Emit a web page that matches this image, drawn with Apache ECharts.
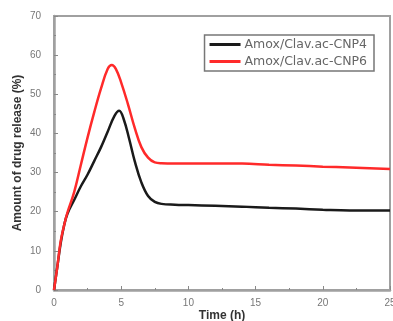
<!DOCTYPE html>
<html>
<head>
<meta charset="utf-8">
<script src="https://cdn.jsdelivr.net/npm/echarts@6/dist/echarts.min.js"></script>
<style>
  html, body { margin: 0; padding: 0; background: #fff; }
  #chart { width: 393px; height: 321px; }
</style>
</head>
<body>
<div id="chart"></div>
<script>
// release curves, [time (h), % released]
const cnp4 = [
  [0, 0], [0.25, 6], [0.5, 12], [0.75, 16.5], [1, 19.5], [1.5, 23], [2, 26.5],
  [2.5, 29.5], [3, 33], [3.5, 36.5], [4, 40.5], [4.5, 44.5], [4.85, 45.8],
  [5.2, 43.5], [5.6, 38.5], [6, 33], [6.5, 27.5], [7, 24], [7.5, 22.5],
  [8, 22], [9, 21.8], [10, 21.7], [12, 21.5], [14, 21.3], [16, 21],
  [18, 20.8], [20, 20.5], [22, 20.3], [25, 20.3]
];
const cnp6 = [
  [0, 0], [0.25, 6], [0.5, 12.5], [0.75, 16.5], [1, 19.8], [1.5, 25],
  [2, 32], [2.5, 39], [3, 45.5], [3.5, 51.5], [4, 56.5], [4.3, 57.5],
  [4.6, 56.5], [5, 53], [5.5, 47.5], [6, 41.5], [6.5, 36.5], [7, 33.8],
  [7.5, 32.6], [8, 32.4], [10, 32.3], [14, 32.3], [16, 32], [18, 31.8],
  [20, 31.5], [22, 31.3], [25, 30.9]
];
const seriesNames = ["Amox/Clav.ac-CNP4", "Amox/Clav.ac-CNP6"];
const seriesColors = ["#1a1a1a", "#ff2a2a"];

const chart = echarts.init(document.getElementById("chart"), null, { renderer: "canvas" });

const axisCommon = {
  nameMoveOverlap: false,
  axisLine: { show: true, lineStyle: { color: "#a0a0a0", width: 2.5 } },
  axisTick: { show: true, inside: true, length: 4, lineStyle: { color: "#888" } },
  minorTick: { show: true, splitNumber: 2, length: 2, lineStyle: { color: "#888" } },
  splitLine: { show: false },
  axisLabel: { color: "#777", fontSize: 10, fontFamily: "Arial, Liberation Sans" }
};

chart.setOption({
  animation: false,
  backgroundColor: "#fff",
  grid: {
    left: 54, right: 3, top: 16, bottom: 31,
    outerBoundsMode: "none", containLabel: false,
    show: true, borderColor: "#a0a0a0", borderWidth: 2
  },
  legend: {
    data: seriesNames,
    orient: "vertical",
    right: 19, top: 35,
    itemWidth: 31, itemHeight: 3, itemGap: 4,
    padding: [3, 7, 3, 5],
    borderColor: "#777", borderWidth: 1.5,
    icon: "rect",
    textStyle: { color: "#666", fontSize: 12.5, fontFamily: "DejaVu Sans", padding: [0, 0, 0, -1] }
  },
  xAxis: Object.assign({}, axisCommon, {
    type: "value", min: 0, max: 25, interval: 5,
    name: "Time (h)", nameLocation: "middle", nameGap: 20,
    nameTextStyle: { color: "#333", fontWeight: "bold", fontSize: 12, fontFamily: "Arial, Liberation Sans" },
    axisLabel: Object.assign({}, axisCommon.axisLabel, { margin: 8 })
  }),
  yAxis: Object.assign({}, axisCommon, {
    type: "value", min: 0, max: 70, interval: 10,
    name: "Amount of drug release (%)", nameLocation: "middle", nameGap: 30,
    nameTextStyle: { color: "#333", fontWeight: "bold", fontSize: 12, fontFamily: "Arial, Liberation Sans" },
    axisLabel: Object.assign({}, axisCommon.axisLabel, { margin: 13 })
  }),
  series: [
    {
      name: seriesNames[0], type: "line", data: cnp4, smooth: 0.4,
      showSymbol: false, color: seriesColors[0], lineStyle: { width: 2.5 }
    },
    {
      name: seriesNames[1], type: "line", data: cnp6, smooth: 0.4,
      showSymbol: false, color: seriesColors[1], lineStyle: { width: 2.5 }
    }
  ]
});
</script>
</body>
</html>
